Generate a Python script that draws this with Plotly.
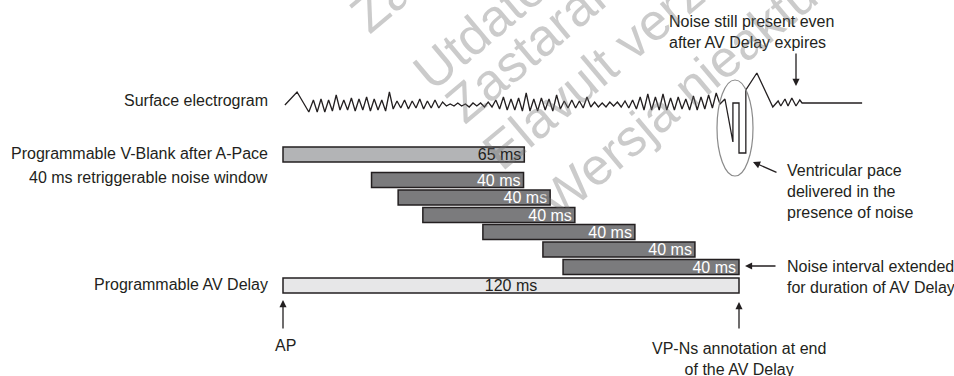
import math
import plotly.graph_objects as go

# time axis in ms (AP = 0), vertical axis in screen-like units (0 = top)
W, H = 954, 376
X0_PX, PX_PER_MS = 283, 3.8

# bars: programmable V-blank, retriggered noise windows, AV delay
vblank_start = [0]
vblank_end = [63.5]
vblank_y = [154.5]
vblank_text = ["65 ms"]

noise_start = [23.3, 30.3, 36.8, 52.6, 68.4, 73.7]
noise_end = [63.3, 70.3, 76.8, 92.6, 108.4, 120]
noise_y = [180, 197.5, 215, 232, 249.5, 267]
noise_text = ["40 ms"] * 6

av_start = [0]
av_end = [120]
av_y = [285.5]
av_text = ["120 ms"]

# surface electrogram (time ms, vertical position)
egm_t = [0.5, 3.7, 6.8,
         8, 9, 10, 11, 12, 13, 14, 15, 16, 17, 18, 19, 20, 21, 22, 23, 24, 25,
         26, 27, 28, 29, 30, 31, 32, 33, 34, 35, 36, 37, 38, 39, 40, 41, 42, 43,
         44, 45, 46, 47, 48, 49, 50, 51, 52, 53, 54, 55, 56, 57, 58, 59, 60, 61,
         62, 63, 64, 65, 66, 67, 68, 69, 70, 71, 72, 73, 74, 75, 76, 77, 78, 79,
         80, 81, 82, 83, 84, 85, 86, 87, 88, 89, 90, 91, 92, 93, 94, 95, 96, 97,
         98, 99, 100, 101, 102, 103, 104, 105, 106, 107, 108, 109, 110, 111, 112,
         113, 114, 115,
         116.3, 118.4, 118.4, 120, 120, 121.8, 121.8, 124.7, 128.9, 130.3, 131,
         132.1, 132.9, 133.9, 135, 136, 136.6, 152.4]
egm_v = [105, 92, 112,
         100, 112, 99, 112, 100, 111, 95, 110, 100, 110, 98, 111, 99, 110, 97, 111, 99, 110,
         100, 111, 92, 109, 101, 108, 100, 109, 101, 108, 99, 109, 101, 108, 100, 108, 102, 106,
         104, 106, 103, 106, 104, 107, 103, 106, 103, 107, 102, 107, 100, 109, 97, 110, 99, 110,
         98, 111, 93, 111, 99, 111, 98, 110, 99, 111, 95, 109, 101, 108, 100, 108, 101, 108,
         97, 107, 102, 107, 103, 107, 102, 106, 102, 107, 101, 108, 100, 109, 97, 110, 94, 110,
         97, 110, 94, 110, 98, 110, 97, 109, 99, 110, 96, 110, 97, 109, 95,
         108, 93, 104,
         99, 142, 103, 103, 153, 153, 90, 73, 107, 101, 106,
         99, 106, 98, 106, 100, 103, 103]

row_labels = ["Surface electrogram", "Programmable V-Blank after A-Pace",
              "40 ms retriggerable noise window", "Programmable AV Delay"]
row_label_y = [100, 154, 178, 284]

INK = "#231f20"
FONT = "Liberation Sans, Arial, sans-serif"


def px(v):
    return v / W


def py(v):
    return 1 - v / H


fig = go.Figure()

fig.add_trace(go.Scatter(x=egm_t, y=egm_v, mode="lines",
                         line=dict(color=INK, width=1.3), hoverinfo="skip"))


def add_bars(starts, ends, ys, texts, fill, tcolor, anchor):
    fig.add_trace(go.Bar(
        orientation="h", base=starts, x=[e - s for s, e in zip(starts, ends)], y=ys,
        width=15, text=texts, textposition="inside", insidetextanchor=anchor,
        constraintext="none", textangle=0,
        textfont=dict(family=FONT, size=16, color=tcolor),
        marker=dict(color=fill, line=dict(color=INK, width=1.5)),
        hoverinfo="skip"))


add_bars(vblank_start, vblank_end, vblank_y, vblank_text, "#b3b4b6", INK, "end")
add_bars(noise_start, noise_end, noise_y, noise_text, "#7b7b7d", "white", "end")
add_bars(av_start, av_end, av_y, av_text, "#e7e7e8", INK, "middle")

ann = []
for lab, yy in zip(row_labels, row_label_y):
    ann.append(dict(x=px(270), y=py(yy), xref="paper", yref="paper", text=lab, showarrow=False,
                    xanchor="right", yanchor="middle"))

ann += [
    dict(x=px(667), y=py(31.5), xref="paper", yref="paper",
         text="Noise still present even<br>after AV Delay expires",
         showarrow=False, xanchor="left", yanchor="middle", align="left"),
    dict(x=px(785), y=py(192), xref="paper", yref="paper",
         text="Ventricular pace<br>delivered in the<br>presence of noise",
         showarrow=False, xanchor="left", yanchor="middle", align="left"),
    dict(x=px(785), y=py(277), xref="paper", yref="paper",
         text="Noise interval extended<br>for duration of AV Delay",
         showarrow=False, xanchor="left", yanchor="middle", align="left"),
    dict(x=px(285), y=py(345), xref="paper", yref="paper", text="AP",
         showarrow=False, xanchor="center", yanchor="middle"),
    dict(x=px(739), y=py(359), xref="paper", yref="paper",
         text="VP-Ns annotation at end<br>of the AV Delay",
         showarrow=False, xanchor="center", yanchor="middle", align="center"),
]

# arrows (tip at x,y; tail offset ax,ay in pixels)
for tx, ty, ax, ay in [(796, 86, 0, -34), (753, 162, 25, 11), (745, 266, 32, 0),
                       (283, 300, 0, 30), (739, 302, 0, 28)]:
    ann.append(dict(x=px(tx), y=py(ty), xref="paper", yref="paper", text="", showarrow=True,
                    ax=ax, ay=ay, arrowhead=2, arrowsize=1.1, arrowwidth=1.3,
                    arrowcolor=INK, standoff=0))

# faint diagonal "outdated version" watermark
ANG = 40
for txt, sx, sy in [("Zastaralá verze", 352, 50), ("Utdatert versjon", 408, 114),
                    ("Zastaraná verzia", 448, 140), ("Elavult verzió", 476, 194),
                    ("Wersja nieaktualna", 541, 236)]:
    half = len(txt) * 13.5
    cx = sx + half * math.cos(math.radians(ANG)) - 12
    cy = sy - half * math.sin(math.radians(ANG)) - 14
    ann.append(dict(x=px(cx), y=py(cy), xref="paper", yref="paper", text=txt, showarrow=False,
                    textangle=-ANG, xanchor="center", yanchor="middle",
                    font=dict(family=FONT, size=52, color="rgba(110,110,110,0.36)")))

fig.update_layout(
    width=W, height=H, margin=dict(l=0, r=0, t=0, b=0),
    paper_bgcolor="white", plot_bgcolor="white", showlegend=False,
    font=dict(family=FONT, size=16, color=INK),
    xaxis=dict(range=[-X0_PX / PX_PER_MS, (W - X0_PX) / PX_PER_MS], visible=False),
    yaxis=dict(range=[H, 0], visible=False),
    annotations=ann,
    shapes=[dict(type="circle", xref="paper", yref="paper",
                 x0=px(717), x1=px(753), y0=py(176), y1=py(80),
                 line=dict(color="#8a8a8a", width=1.2))],
)

fig.write_html("out.html", config={"displayModeBar": False},
               post_script="document.body.style.margin='0';")
